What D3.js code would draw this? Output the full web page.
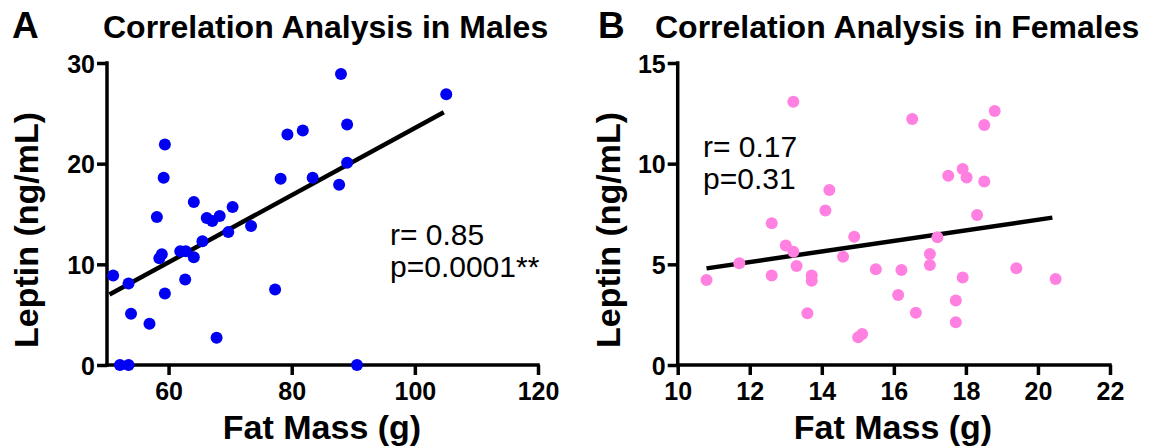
<!DOCTYPE html>
<html>
<head>
<meta charset="utf-8">
<script src="https://cdn.jsdelivr.net/npm/d3@7"></script>
<style>
  body { margin: 0; background: #fff; }
  svg text { font-family: "Liberation Sans", Arial, Helvetica, sans-serif; }
</style>
</head>
<body>
<div id="chart"></div>
<script>
//************* data ***************/
// males: fat mass (g) vs leptin (ng/mL)
var maleFat = [51.0, 52.1, 53.5, 53.5, 53.9, 56.9, 58.1, 59.4, 59.2, 58.5, 58.9, 59.4,
  61.9, 62.8, 62.7, 64.1, 64.1, 65.5, 66.2, 67.1, 68.3, 69.7, 70.4, 67.8, 73.4,
  77.3, 78.2, 88.0, 105.1, 79.3, 81.8, 89.0, 89.0, 83.4, 87.7, 90.6];
var maleLeptin = [8.9, 0, 0, 8.1, 5.1, 4.1, 14.7, 21.9, 18.6, 10.6, 11.0, 7.1,
  11.3, 11.3, 8.5, 10.7, 16.2, 12.3, 14.6, 14.3, 14.8, 13.2, 15.7, 2.7, 13.8,
  7.5, 18.5, 28.9, 26.9, 22.9, 23.3, 23.9, 20.1, 18.6, 17.9, 0];
var maleFit = [[50.4, 7.0], [104.7, 25.1]];

// females
var femaleFat = [10.80, 11.71, 12.61, 12.61, 13.0, 13.21, 13.21, 13.30, 13.60, 13.72, 13.72,
  14.10, 14.21, 14.59, 14.90, 15.01, 15.12, 15.50, 16.21, 16.12, 16.51, 16.61, 17.0, 17.0,
  17.21, 17.51, 17.91, 18.02, 17.91, 17.72, 17.72, 18.31, 18.51, 18.80, 18.51, 19.40, 20.49];
var femaleLeptin = [4.22, 5.05, 7.04, 4.44, 5.93, 5.63, 13.08, 4.92, 2.57, 4.44, 4.19,
  7.67, 8.69, 5.38, 6.37, 1.38, 1.54, 4.75, 4.72, 3.48, 12.22, 2.60, 5.51, 4.97,
  6.34, 9.40, 9.74, 9.31, 4.35, 3.20, 2.12, 7.45, 11.92, 12.62, 9.11, 4.80, 4.27];
var femaleFit = [[10.8, 4.8], [20.4, 7.32]];

var maleXTicks = [60, 80, 100, 120];
var maleYTicks = [0, 10, 20, 30];
var femaleXTicks = [10, 12, 14, 16, 18, 20, 22];
var femaleYTicks = [0, 5, 10, 15];

//************* setup svg ***************/
var W = 1149, H = 448;
var svg = d3.select("#chart").append("svg")
    .attr("width", W)
    .attr("height", H);

//************* panel builder ***************/
function panel(opt) {
  var x = d3.scaleLinear().domain(opt.xDomain).range(opt.xRange);
  var y = d3.scaleLinear().domain(opt.yDomain).range([365, 63]);

  var g = svg.append("g");

  // x axis
  var xAxis = g.append("g")
      .attr("transform", "translate(0,365)")
      .call(d3.axisBottom(x).tickValues(opt.xTicks).tickSize(10).tickSizeOuter(0));
  // y axis
  var yAxis = g.append("g")
      .attr("transform", "translate(" + opt.xRange[0] + ",0)")
      .call(d3.axisLeft(y).tickValues(opt.yTicks).tickSize(10).tickSizeOuter(0));

  [xAxis, yAxis].forEach(function(a){
    a.attr("font-size", null).attr("font-family", null);
    a.select(".domain").attr("stroke", "#000").attr("stroke-width", 3.5);
    a.selectAll(".tick line").attr("stroke", "#000").attr("stroke-width", 3.5);
    a.selectAll(".tick text")
      .style("font-size", "25px")
      .style("font-weight", "bold")
      .attr("fill", "#000");
  });
  xAxis.select(".domain").attr("d", "M" + (opt.xRange[0] - 1.75) + ",0H" + (opt.xRange[1] + 1.75));
  xAxis.selectAll(".tick text").attr("y", 35).attr("dy", null);
  yAxis.select(".domain").attr("d", "M0,366.75V61.25");
  yAxis.selectAll(".tick text").attr("x", -12).attr("dy", "0.36em");

  // fit line
  g.append("line")
      .attr("x1", x(opt.fit[0][0])).attr("y1", y(opt.fit[0][1]))
      .attr("x2", x(opt.fit[1][0])).attr("y2", y(opt.fit[1][1]))
      .attr("stroke", "#000")
      .attr("stroke-width", 4.5);

  // dots
  g.selectAll("circle")
    .data(opt.xs.map(function(d, i){ return [d, opt.ys[i]]; }))
    .enter()
    .append("circle")
      .attr("cx", function(d){ return x(d[0]); })
      .attr("cy", function(d){ return y(d[1]); })
      .attr("r", 6)
      .attr("fill", opt.color);

  // labels
  g.append("text")
      .attr("x", opt.letterX).attr("y", 38)
      .style("font-size", "37px").style("font-weight", "bold")
      .text(opt.letter);
  g.append("text")
      .attr("x", opt.titleX).attr("y", 38)
      .style("font-size", "32px").style("font-weight", "bold")
      .text(opt.title);
  g.append("text")
      .attr("transform", "translate(" + opt.yLabelX + ",230) rotate(-90)")
      .attr("text-anchor", "middle")
      .style("font-size", "34px").style("font-weight", "bold")
      .text("Leptin (ng/mL)");
  g.append("text")
      .attr("x", opt.xLabelX).attr("y", 439)
      .attr("text-anchor", "middle")
      .style("font-size", "34px").style("font-weight", "bold")
      .text("Fat Mass (g)");

  // stats
  opt.stats.forEach(function(s, i){
    g.append("text")
      .attr("x", opt.statX).attr("y", opt.statY + i * 32)
      .style("font-size", "30px")
      .text(s);
  });
}

panel({
  xDomain: [50, 120], xRange: [107, 538],
  yDomain: [0, 30], xTicks: maleXTicks, yTicks: maleYTicks,
  xs: maleFat, ys: maleLeptin, fit: maleFit, color: "#0000f2",
  letter: "A", letterX: 12, title: "Correlation Analysis in Males", titleX: 103,
  yLabelX: 38, xLabelX: 322, stats: ["r= 0.85", "p=0.0001**"], statX: 390, statY: 245
});

panel({
  xDomain: [10, 22], xRange: [677.7, 1110],
  yDomain: [0, 15], xTicks: femaleXTicks, yTicks: femaleYTicks,
  xs: femaleFat, ys: femaleLeptin, fit: femaleFit, color: "#ff80e0",
  letter: "B", letterX: 598, title: "Correlation Analysis in Females", titleX: 655,
  yLabelX: 620, xLabelX: 893, stats: ["r= 0.17", "p=0.31"], statX: 703, statY: 157
});
</script>
</body>
</html>
